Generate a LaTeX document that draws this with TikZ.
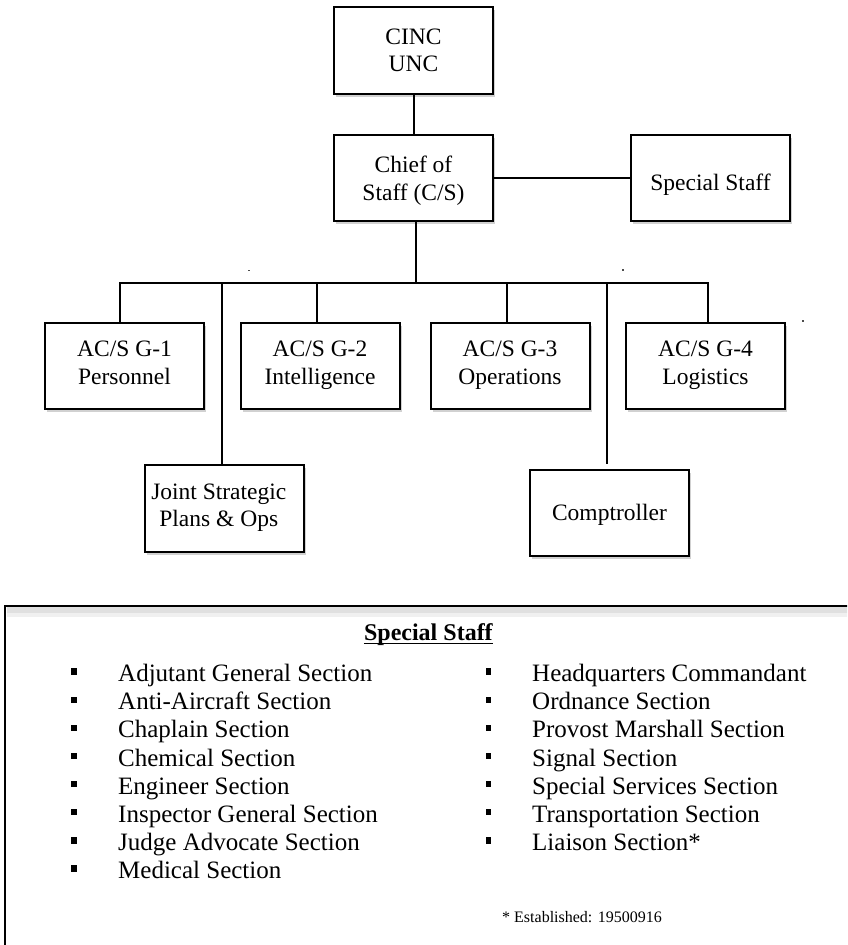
\documentclass[tikz,border=0pt]{standalone}
\usepackage{fontspec}
\setmainfont{Liberation Serif}
\usetikzlibrary{shadows}
\begin{document}
\begin{tikzpicture}[x=1pt,y=-1pt,
  orgbox/.style={draw=black, line width=2pt, fill=white, minimum width=159pt, minimum height=86.5pt,
    inner sep=0pt, align=center, font=\fontsize{23.5}{27.3}\selectfont,
    drop shadow={shadow xshift=2pt, shadow yshift=-3pt, opacity=0.18, fill=black}},
  twoline/.style={text depth=8pt, text height=44pt},
  conn/.style={line width=2pt, line join=miter},
  bul/.style={fill=black, inner sep=0pt, minimum width=5.5pt, minimum height=6.5pt},
  item/.style={anchor=base west, inner sep=0pt, font=\fontsize{25}{28}\selectfont},
  speck/.style={fill=black!70}
]
\useasboundingbox (0,0) rectangle (847,945);
\clip (0,0) rectangle (847,945);

% boxes
\node[orgbox, text depth=8pt, text height=50.8pt] (cinc) at (413.5,50.3) {CINC\\UNC};
\node[orgbox, text depth=8pt, text height=52pt] (cos)  at (413.5,178) {Chief of\\Staff (C/S)};
\node[orgbox, text depth=5pt, text height=30.4pt] (ss)   at (710.5,178) {Special Staff};
\node[orgbox, twoline] (g1)   at (124.5,366) {AC/S G-1\\Personnel};
\node[orgbox, twoline] (g2)   at (320,366) {AC/S G-2\\Intelligence};
\node[orgbox, twoline] (g3)   at (510,366) {AC/S G-3\\Operations};
\node[orgbox, twoline] (g4)   at (705.5,366) {AC/S G-4\\Logistics};
\node[orgbox, twoline] (jsp)  at (224.8,508.7) {\hspace*{-12pt}Joint Strategic\\\hspace*{-12pt}Plans \& Ops};
\node[orgbox, text depth=6pt, text height=20pt] (comp) at (609.5,513) {Comptroller};

% bus coordinates
\coordinate (j1) at (120,283);
\coordinate (j2) at (222.3,283);
\coordinate (j3) at (317.3,283);
\coordinate (j4) at (416,283);
\coordinate (j5) at (507.3,283);
\coordinate (j6) at (607,283);
\coordinate (j7) at (708,283);
\coordinate (compend) at (607,464);

% connectors
\draw[conn] (cinc.south) -- (cos.north);
\draw[conn] (cos.east) -- (ss.west);
\draw[conn] (j4 |- cos.south) -- (j4);
\draw[conn] (j1 |- g1.north) -- (j1) -- (j7) -- (j7 |- g4.north);
\draw[conn] (j2) -- (j2 |- jsp.north);
\draw[conn] (j3) -- (j3 |- g2.north);
\draw[conn] (j5) -- (j5 |- g3.north);
\draw[conn] (j6) -- (compend);

% specks
\fill[speck] (248,269.8) rectangle (250.2,271.3);
\fill[speck] (622,269.3) rectangle (624.2,270.8);
\fill[speck] (802,320) rectangle (804.2,321.5);

% special staff panel
\fill[black!12] (7,607) rectangle (900,613);
\fill[black!6] (7,613) rectangle (900,617);
\draw[line width=2pt] (5.3,1000) -- (5.3,606) -- (900,606);

\node[anchor=base, inner sep=0pt, font=\bfseries\fontsize{24}{28}\selectfont] (title) at (428.4,640) {Special Staff};
\draw[line width=1.5pt] ([yshift=-3.5pt]title.base west) -- ([yshift=-3.5pt]title.base east);

\foreach \t [count=\i from 0] in {Adjutant General Section, Anti-Aircraft Section, Chaplain Section,
  Chemical Section, Engineer Section, Inspector General Section, Judge Advocate Section, Medical Section}{
  \node[bul] (lb\i) at (74,{681.7+28.1*\i-10}) {};
  \node[item] (lt\i) at (118,{681.7+28.1*\i}) {\t};
}
\foreach \t [count=\i from 0] in {Headquarters Commandant, Ordnance Section, Provost Marshall Section,
  Signal Section, Special Services Section, Transportation Section, Liaison Section*}{
  \node[bul] (rb\i) at (488.6,{681.7+28.1*\i-10}) {};
  \node[item] (rt\i) at (532,{681.7+28.1*\i}) {\t};
}
\node[anchor=base west, inner sep=0pt, font=\fontsize{16}{19}\selectfont] (est) at (502,922) {* Established: 19500916};
\end{tikzpicture}
\end{document}
